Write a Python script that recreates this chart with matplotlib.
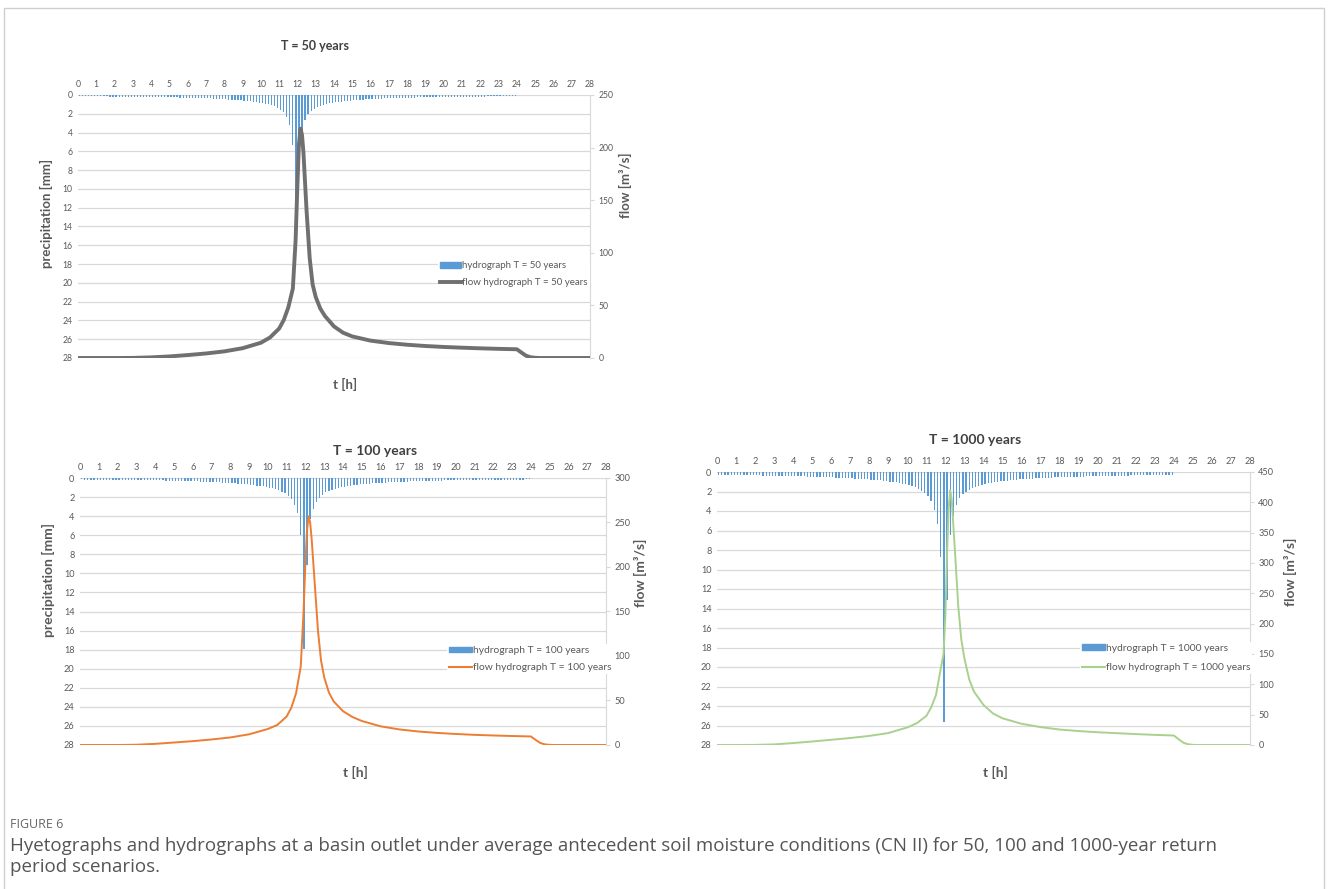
import numpy as np
import matplotlib.pyplot as plt
from matplotlib.patches import Patch, Rectangle
from matplotlib.lines import Line2D

plt.rcParams['font.family'] = ['Lato', 'DejaVu Sans']

# 10-minute rainfall depths [mm], 0-24 h (144 blocks)
p50 = [0.13, 0.13, 0.13, 0.14, 0.14,
       0.14, 0.14, 0.15, 0.15, 0.15, 0.16,
       0.16, 0.16, 0.17, 0.17, 0.17, 0.18,
       0.18, 0.18, 0.19, 0.19, 0.20, 0.20,
       0.21, 0.21, 0.22, 0.22, 0.23, 0.24,
       0.24, 0.25, 0.26, 0.26, 0.27, 0.28,
       0.29, 0.30, 0.31, 0.32, 0.33, 0.34,
       0.35, 0.36, 0.37, 0.39, 0.40, 0.42,
       0.44, 0.46, 0.48, 0.50, 0.52, 0.55,
       0.58, 0.61, 0.64, 0.68, 0.72, 0.76,
       0.81, 0.87, 0.93, 1.01, 1.10, 1.20,
       1.35, 1.55, 1.85, 2.30, 3.20, 5.30,
       15.8,
       8.00, 3.80, 2.70, 2.05, 1.70, 1.45,
       1.28, 1.15, 1.05, 0.97, 0.90, 0.84,
       0.79, 0.74, 0.70, 0.66, 0.62, 0.59,
       0.56, 0.53, 0.51, 0.49, 0.47, 0.45,
       0.43, 0.41, 0.40, 0.38, 0.37, 0.36,
       0.34, 0.33, 0.32, 0.31, 0.30, 0.29,
       0.28, 0.27, 0.27, 0.26, 0.25, 0.25,
       0.24, 0.23, 0.23, 0.22, 0.22, 0.21,
       0.21, 0.20, 0.20, 0.19, 0.19, 0.18,
       0.18, 0.18, 0.17, 0.17, 0.17, 0.16,
       0.16, 0.16, 0.15, 0.15, 0.15, 0.14,
       0.14, 0.14, 0.14, 0.13, 0.13, 0.13]

p100 = [0.15, 0.16, 0.16, 0.16, 0.16,
        0.17, 0.17, 0.17, 0.18, 0.18, 0.18,
        0.19, 0.19, 0.20, 0.20, 0.20, 0.21,
        0.21, 0.22, 0.22, 0.23, 0.23, 0.24,
        0.24, 0.25, 0.26, 0.26, 0.27, 0.28,
        0.28, 0.29, 0.30, 0.31, 0.32, 0.33,
        0.34, 0.35, 0.36, 0.37, 0.38, 0.40,
        0.41, 0.42, 0.44, 0.46, 0.48, 0.50,
        0.52, 0.54, 0.56, 0.59, 0.61, 0.64,
        0.67, 0.71, 0.75, 0.79, 0.84, 0.89,
        0.95, 1.02, 1.09, 1.18, 1.29, 1.43,
        1.62, 1.90, 2.25, 2.80, 3.70, 6.00,
        17.9,
        9.10, 4.30, 3.20, 2.50, 2.05, 1.75,
        1.52, 1.36, 1.23, 1.12, 1.04, 0.97,
        0.91, 0.85, 0.80, 0.76, 0.72, 0.68,
        0.65, 0.62, 0.59, 0.56, 0.54, 0.52,
        0.50, 0.48, 0.46, 0.44, 0.43, 0.41,
        0.40, 0.38, 0.37, 0.36, 0.35, 0.34,
        0.33, 0.32, 0.31, 0.30, 0.29, 0.28,
        0.28, 0.27, 0.26, 0.26, 0.25, 0.24,
        0.24, 0.23, 0.23, 0.22, 0.22, 0.21,
        0.21, 0.20, 0.20, 0.20, 0.19, 0.19,
        0.18, 0.18, 0.18, 0.17, 0.17, 0.17,
        0.16, 0.16, 0.16, 0.16, 0.15, 0.15]

p1000 = [0.29, 0.29, 0.30, 0.30, 0.31,
         0.31, 0.32, 0.32, 0.33, 0.33, 0.34,
         0.34, 0.35, 0.35, 0.36, 0.37, 0.37,
         0.38, 0.39, 0.39, 0.40, 0.41, 0.42,
         0.43, 0.43, 0.44, 0.45, 0.46, 0.47,
         0.48, 0.49, 0.50, 0.51, 0.52, 0.53,
         0.54, 0.55, 0.57, 0.58, 0.60, 0.61,
         0.63, 0.65, 0.67, 0.69, 0.71, 0.73,
         0.75, 0.77, 0.80, 0.83, 0.86, 0.90,
         0.94, 0.98, 1.02, 1.07, 1.13, 1.19,
         1.27, 1.35, 1.45, 1.57, 1.72, 1.90,
         2.15, 2.45, 3.00, 3.90, 5.30, 8.70,
         25.6,
         13.1, 6.50, 4.50, 3.40, 2.70, 2.30,
         2.00, 1.80, 1.64, 1.51, 1.40, 1.31,
         1.23, 1.16, 1.10, 1.05, 1.00, 0.96,
         0.92, 0.88, 0.85, 0.82, 0.79, 0.76,
         0.74, 0.72, 0.70, 0.68, 0.66, 0.64,
         0.62, 0.61, 0.59, 0.58, 0.56, 0.55,
         0.54, 0.53, 0.52, 0.51, 0.50, 0.49,
         0.48, 0.47, 0.46, 0.45, 0.44, 0.43,
         0.42, 0.42, 0.41, 0.40, 0.39, 0.39,
         0.38, 0.37, 0.37, 0.36, 0.35, 0.35,
         0.34, 0.34, 0.33, 0.33, 0.32, 0.32,
         0.31, 0.31, 0.30, 0.30, 0.29, 0.29]

# outlet discharge [m3/s]
t_flow = [0, 1, 2, 3, 4, 5, 6, 7, 8, 9, 10, 10.5, 11, 11.25, 11.5, 11.75, 11.9,
          12.0, 12.08, 12.17, 12.25, 12.33, 12.5, 12.67, 12.83,
          13, 13.25, 13.5, 14, 14.5, 15, 16, 17, 18, 19, 20, 21, 22, 23, 24,
          24.25, 24.5, 24.75, 25, 25.25, 26, 27, 28]
q50 = [0, 0, 0, 0.1, 0.6, 1.5, 2.8, 4.3, 6.3, 9.3, 14.5, 19.5, 28, 36, 48, 66, 112,
       165, 203, 218, 212, 195, 140, 95, 70,
       58, 47, 40, 30, 24, 20.5, 16.5, 14.2, 12.6, 11.4, 10.5, 9.8, 9.2, 8.7, 8.3,
       5.2, 2.2, 0.7, 0.2, 0, 0, 0, 0]
q100 = [0, 0, 0, 0.3, 1.3, 2.8, 4.3, 6.2, 8.5, 12, 18, 22.5, 32, 42, 58, 88, 150,
        205, 240, 257, 250, 232, 180, 128, 95,
        76, 59, 49, 38, 31.5, 27, 21, 17.5, 15.2, 13.6, 12.4, 11.4, 10.7, 10.1, 9.6,
        5.8, 2.3, 0.7, 0.2, 0, 0, 0, 0]
q1000 = [0, 0, 0.2, 1, 3.2, 5.8, 8.6, 11.5, 15, 19.7, 29, 36, 48, 62, 82, 125, 150,
         215, 310, 390, 420, 405, 320, 230, 175,
         142, 108, 88, 66, 52, 44, 35, 29.5, 25.5, 23, 21, 19.5, 18, 16.7, 15.6,
         9.5, 3.8, 1.2, 0.3, 0, 0, 0, 0]

W, H = 1328, 889
BLUE = '#5b9bd5'
TXT = '#595959'
GRID = '#d9d9d9'


def fx(px):
    return px / W


def fy(py):
    return 1 - py / H


def panel(box, precip, flow, qmax, color, lw, years, fs, leg_xy, leg_sp):
    l, t, r, b = box
    ax = fig.add_axes([fx(l), fy(b), fx(r - l), fy(t) - fy(b)])
    t_bars = np.arange(len(precip)) / 6 + 1 / 12
    ax.bar(t_bars, precip, width=0.07, color=BLUE, zorder=2)
    ax.set_xlim(0, 28)
    ax.set_ylim(28, 0)
    ax.set_xticks(range(29))
    ax.set_yticks(range(0, 29, 2))
    ax.xaxis.tick_top()
    ax.tick_params(length=0, labelsize=fs, labelcolor=TXT, pad=4)
    ax.grid(axis='y', color=GRID, lw=0.9)
    ax.set_axisbelow(True)
    for s in ax.spines.values():
        s.set_visible(False)

    ax2 = ax.twinx()
    ax2.plot(t_flow, flow, color=color, lw=lw, solid_capstyle='round', zorder=3)
    ax2.set_ylim(0, qmax)
    ax2.set_yticks(range(0, qmax + 1, 50))
    for k, s in ax2.spines.items():
        s.set_visible(k == 'right')
    ax2.spines['right'].set_color(GRID)
    ax2.tick_params(axis='y', length=3, color=GRID, labelsize=fs,
                    labelcolor=TXT, pad=3)

    handles = [Patch(color=BLUE), Line2D([], [], color=color, lw=max(lw, 1.5))]
    labels = ['hydrograph T = %s years' % years,
              'flow hydrograph T = %s years' % years]
    leg = ax2.legend(handles, labels, loc='center left',
                     bbox_to_anchor=(fx(leg_xy[0]), fy(leg_xy[1])),
                     bbox_transform=fig.transFigure, frameon=True,
                     fontsize=fs + 0.8, labelcolor=TXT, handlelength=2.2,
                     handleheight=0.5, handletextpad=0.1, borderpad=0.2,
                     labelspacing=leg_sp, borderaxespad=0)
    leg.get_frame().set_edgecolor('none')
    leg.get_frame().set_facecolor('white')
    leg.get_frame().set_alpha(1)
    return ax, ax2


fig = plt.figure(figsize=(W / 100, H / 100), dpi=100)

fig.add_artist(Rectangle((fx(4), -0.05), fx(1320), fy(8) + 0.05,
                         transform=fig.transFigure, fill=False,
                         edgecolor='#cfcfcf', lw=1))

panel((78, 95, 590, 358), p50, q50, 250, '#707070', 2.8, '50', 6.2,
      (438, 274), 0.75)
panel((80, 478, 606, 745), p100, q100, 300, '#ed7d31', 1.4, '100', 6.6,
      (447, 659), 0.75)
panel((717, 472, 1250, 745), p1000, q1000, 450, '#a9d18e', 1.4, '1000', 6.6,
      (1080, 658), 1.0)

# titles and axis labels
title_kw = dict(fontweight='bold', color='#404040', ha='center', va='center')
fig.text(fx(315), fy(46), 'T = 50 years', fontsize=9, **title_kw)
fig.text(fx(375), fy(451), 'T = 100 years', fontsize=10, **title_kw)
fig.text(fx(975), fy(440), 'T = 1000 years', fontsize=10, **title_kw)

lab_kw = dict(fontweight='bold', color=TXT, ha='center', va='center')
fig.text(fx(345), fy(384), 't [h]', fontsize=9.5, **lab_kw)
fig.text(fx(355), fy(772), 't [h]', fontsize=10, **lab_kw)
fig.text(fx(995), fy(772), 't [h]', fontsize=10, **lab_kw)
fig.text(fx(46), fy(213), 'precipitation [mm]', rotation=90, fontsize=9.5, **lab_kw)
fig.text(fx(48), fy(580), 'precipitation [mm]', rotation=90, fontsize=10, **lab_kw)
fig.text(fx(625), fy(185), 'flow [m³/s]', rotation=90, fontsize=9.5, **lab_kw)
fig.text(fx(640), fy(573), 'flow [m³/s]', rotation=90, fontsize=10, **lab_kw)
fig.text(fx(1290), fy(572), 'flow [m³/s]', rotation=90, fontsize=10, **lab_kw)

# caption
cap_kw = dict(family=['Open Sans', 'DejaVu Sans'], ha='left', va='center')
fig.text(fx(10), fy(825), 'FIGURE 6', fontsize=9, color='#666666', **cap_kw)
fig.text(fx(10), fy(846),
         'Hyetographs and hydrographs at a basin outlet under average antecedent '
         'soil moisture conditions (CN II) for 50, 100 and 1000-year return',
         fontsize=13.5, color='#555555', **cap_kw)
fig.text(fx(10), fy(867), 'period scenarios.', fontsize=13.5, color='#555555',
         **cap_kw)

fig.savefig('out.png', dpi=100, facecolor='white')
